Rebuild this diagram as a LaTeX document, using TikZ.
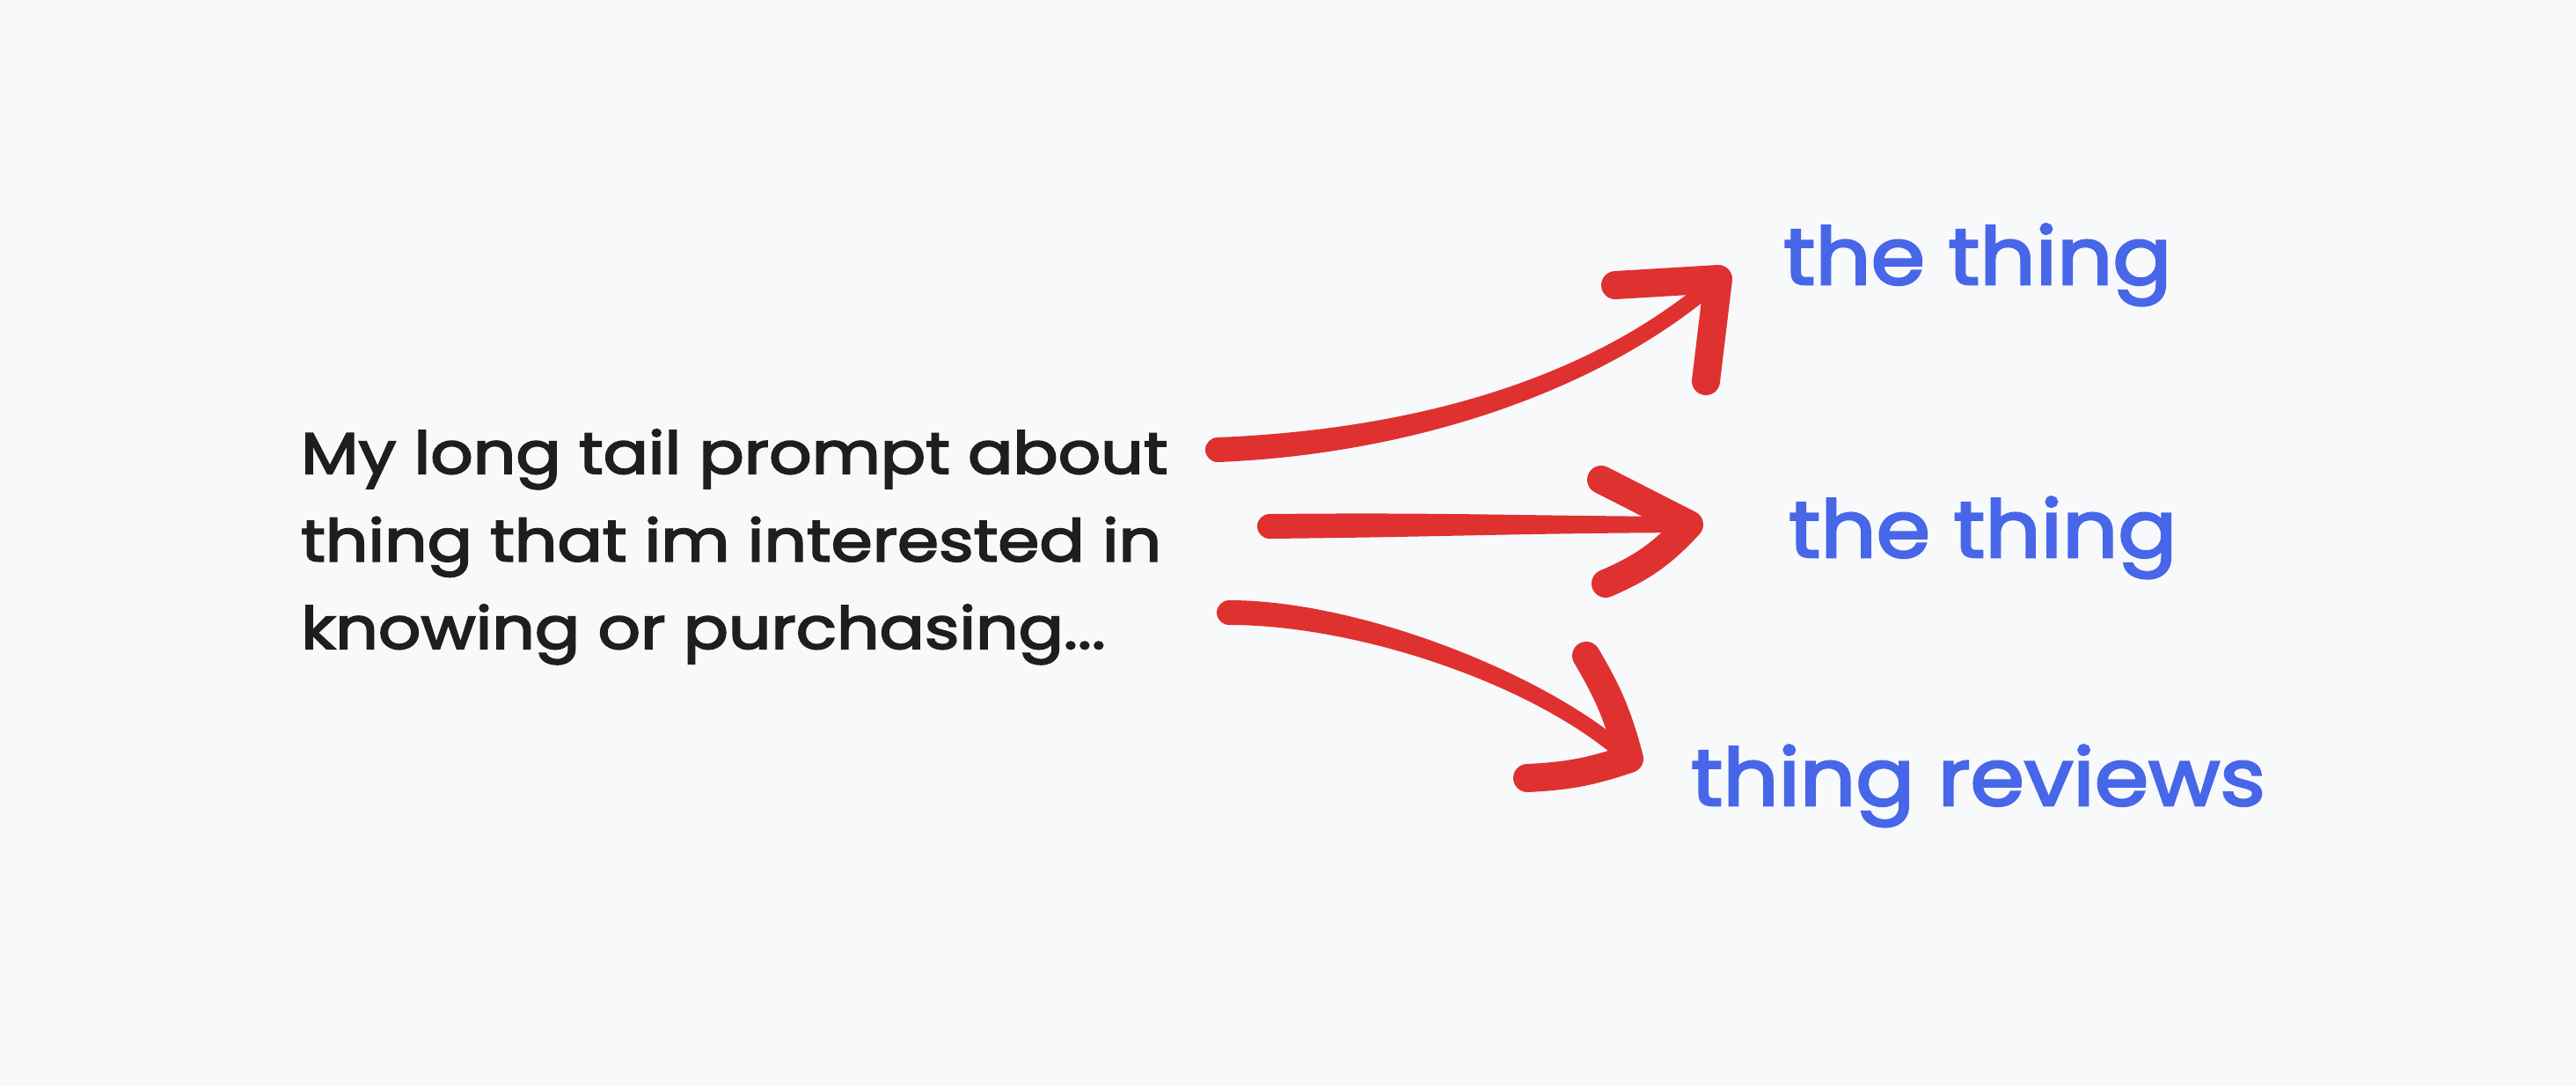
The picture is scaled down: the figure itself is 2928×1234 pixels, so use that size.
\documentclass[tikz,border=0pt]{standalone}
\usepackage{fontspec}
\setmainfont{Poppins}
\newfontfamily\promptfont{Poppins}[FakeStretch=1.15, FakeBold=3]
\newfontfamily\targetfont{Poppins}[FakeStretch=1.10, FakeBold=3]
\usetikzlibrary{calc}
\definecolor{bg}{HTML}{F8F9FB}
\definecolor{ink}{HTML}{1E1E1E}
\definecolor{arrowred}{HTML}{E03131}
\definecolor{textblue}{HTML}{4766E8}
\tikzset{
  prompt/.style={inner sep=0pt, align=left, text=ink, font=\promptfont\fontsize{66}{99.5}\selectfont},
  target/.style={inner sep=0pt, text=textblue, font=\targetfont\fontsize{90}{100}\selectfont},
  shaft/.style={fill=arrowred},
  barb/.style={draw=arrowred, line width=32pt, line cap=round, line join=round},
}
\begin{document}
\begin{tikzpicture}[x=1pt,y=-1pt]
\fill[bg] (0,0) rectangle (2928,1234);
\useasboundingbox (0,0) rectangle (2928,1234);

\node[prompt, anchor=base west] (prompt) at (342,737) {My long tail prompt about\\thing that im interested in\\knowing or purchasing...};
\node[target, anchor=base west] (t1) at (2027,323) {the thing};
\node[target, anchor=base west] (t2) at (2033,633) {the thing};
\node[target, anchor=base west] (t3) at (1922,915) {thing reviews};

% arrow 1
\coordinate (a1s) at (1384,511);
\coordinate (a1t) at (1953,317);
\coordinate (a1b1) at (1836,324);
\coordinate (a1b2) at (1939,433);
\fill[shaft] ($(a1s)+(-0.6,-14)$) .. controls ($(a1s)+(199.4,-22)$) and ($(a1t)+(-155.9,124.2)$) .. ($(a1t)+(-5.9,-6.8)$) -- ($(a1t)+(5.9,6.8)$) .. controls ($(a1t)+(-144.1,137.8)$) and ($(a1s)+(200.6,6)$) .. ($(a1s)+(0.6,14)$) -- cycle;
\fill[shaft] (a1s) circle[radius=14pt];
\draw[barb] (a1b1) -- (a1t) -- (a1b2);

% arrow 2
\coordinate (a2s) at (1443,598);
\coordinate (a2t) at (1920,596);
\coordinate (a2b1) at (1820,545);
\coordinate (a2b2) at (1825,663);
\fill[shaft] ($(a2s)+(0,-14)$) .. controls ($(a2s)+(200,-16)$) and ($(a2t)+(-200,-10)$) .. ($(a2t)+(0,-9)$) -- ($(a2t)+(0,9)$) .. controls ($(a2t)+(-200,10)$) and ($(a2s)+(200,12)$) .. ($(a2s)+(0,14)$) -- cycle;
\fill[shaft] (a2s) circle[radius=14pt];
\draw[barb] (a2b1) -- (a2t) to[bend left=12] (a2b2);

% arrow 3
\coordinate (a3s) at (1397,696);
\coordinate (a3t) at (1852,862);
\coordinate (a3b1) at (1803,745);
\coordinate (a3b2) at (1736,884);
\fill[shaft] ($(a3s)+(0,-14)$) .. controls ($(a3s)+(150,-14)$) and ($(a3t)+(-88.9,-94.6)$) .. ($(a3t)+(6.1,-6.6)$) -- ($(a3t)+(-6.1,6.6)$) .. controls ($(a3t)+(-101.1,-81.4)$) and ($(a3s)+(150,14)$) .. ($(a3s)+(0,14)$) -- cycle;
\fill[shaft] (a3s) circle[radius=14pt];
\draw[barb] (a3b1) to[bend left=8] (a3t) to[bend left=8] (a3b2);
\end{tikzpicture}
\end{document}
